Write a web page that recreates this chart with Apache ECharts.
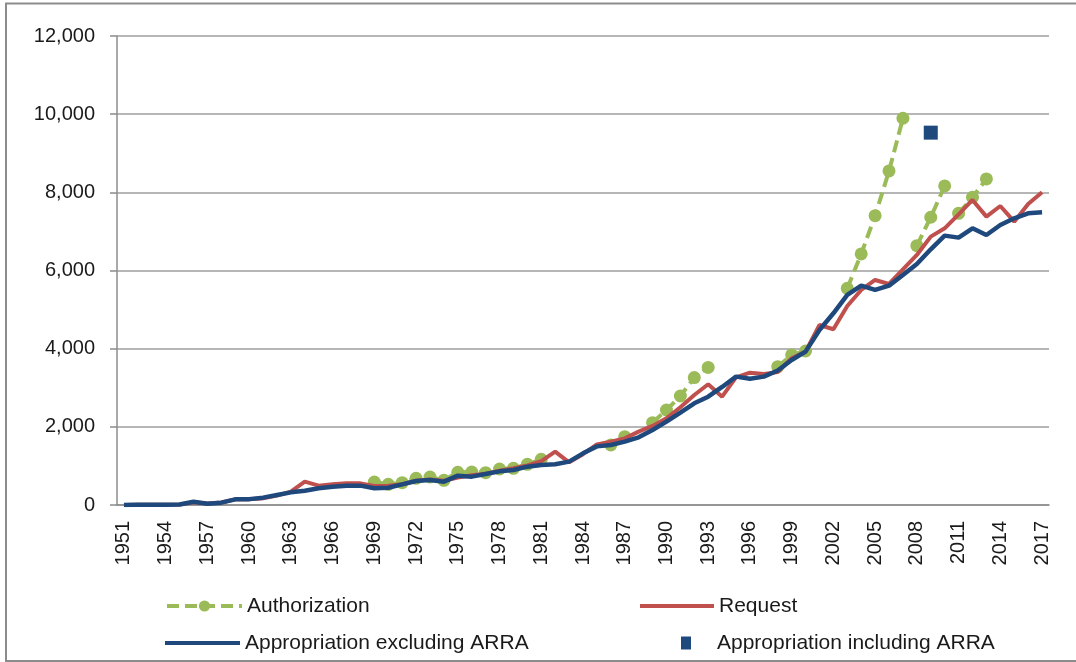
<!DOCTYPE html>
<html>
<head>
<meta charset="utf-8">
<title>Authorization, request and appropriation</title>
<script src="https://cdn.jsdelivr.net/npm/echarts@6/dist/echarts.min.js"></script>
<style>
  html, body { margin: 0; padding: 0; background: #fff; }
  #chart { width: 1076px; height: 662px; }
</style>
</head>
<body>
<div id="chart"></div>
<script>
// years on the category axis
var years = [];
for (var y = 1951; y <= 2017; y++) {
  years.push(String(y));
}

// values (millions)
var authorization = [
  null, null, null, null, null, null, null, null, null, null,
  null, null, null, null, null, null, null, null, 588, 529,
  571, 682, 716, 631, 836, 844, 827, 921, 938, 1041,
  1169, null, null, null, null, 1535, 1748, null, 2107, 2431,
  2789, 3260, 3520, null, null, null, null, 3540, 3839, 3940,
  null, null, 5545, 6423, 7403, 8547, 9895, 6636, 7362, 8163,
  7464, 7874, 8342, null, null, null, null
];
// the dashed authorization line starts again at these years
var authBreaks = [2008, 2011];

var request = [
  0, 4, 5, 8, 12, 70, 40, 65, 145, 150,
  175, 240, 341, 597, 495, 529, 554, 554, 486, 490,
  530, 620, 650, 620, 700, 760, 800, 880, 940, 1010,
  1120, 1365, 1090, 1300, 1550, 1620, 1706, 1876, 2022, 2218,
  2500, 2815, 3090, 2772, 3267, 3386, 3352, 3400, 3754, 3924,
  4606, 4496, 5092, 5502, 5758, 5655, 6031, 6398, 6866, 7080,
  7438, 7805, 7378, 7651, 7250, 7703, 8002
];

var approExArra = [
  0, 4, 5, 8, 12, 85, 33, 60, 145, 150,
  188, 256, 324, 367, 427, 469, 495, 495, 427, 440,
  529, 614, 640, 597, 751, 725, 793, 861, 895, 981,
  1024, 1041, 1109, 1322, 1500, 1535, 1620, 1731, 1919, 2132,
  2363, 2602, 2772, 3020, 3284, 3230, 3284, 3440, 3710, 3924,
  4478, 4905, 5374, 5613, 5502, 5613, 5886, 6167, 6543, 6892,
  6841, 7080, 6909, 7165, 7336, 7464, 7490
];

var approInArraYear = '2009';
var approInArraValue = 9527;

var yTicks = [0, 2000, 4000, 6000, 8000, 10000, 12000];

var green = '#9BBB59';
var red = '#C0504D';
var blue = '#1F497D';
var font = 'Liberation Sans';

// split authorization into separate dashed pieces
function authSegment(from, to) {
  return authorization.map(function (v, i) {
    var yr = +years[i];
    return yr >= from && yr < to ? v : null;
  });
}

var bounds = [1951].concat(authBreaks).concat([2018]);
var authSeries = [];
for (var k = 0; k < bounds.length - 1; k++) {
  authSeries.push({
    name: 'Authorization',
    type: 'line',
    data: authSegment(bounds[k], bounds[k + 1]),
    connectNulls: false,
    symbol: 'circle',
    symbolSize: 13,
    showAllSymbol: true,
    itemStyle: { color: green },
    lineStyle: { color: green, width: 4, type: [12, 6] },
    z: 1
  });
}

var inArra = years.map(function (yr) {
  return yr === approInArraYear ? approInArraValue : null;
});

function fmt(v) {
  return String(v).replace(/\B(?=(\d{3})+(?!\d))/g, ',');
}

var myChart = echarts.init(document.getElementById('chart'));

var legendText = { fontFamily: font, fontSize: 21, color: '#1a1a1a', lineHeight: 24 };

var option = {
  animation: false,
  backgroundColor: '#fff',
  graphic: [
    {
      type: 'polyline',
      shape: { points: [[1076, 3.5], [6, 3.5], [6, 661], [1076, 661]] },
      style: { stroke: '#8c8c8c', lineWidth: 2, fill: null },
      silent: true
    }
  ],
  grid: { left: 117, right: 27, top: 36, bottom: 157 },
  legend: [
    {
      data: ['Authorization'],
      left: 160, top: 589,
      itemWidth: 75, itemHeight: 14,
      lineStyle: { width: 4 },
      textStyle: legendText
    },
    {
      data: [{ name: 'Request', icon: 'rect' }],
      left: 635, top: 589,
      itemWidth: 74, itemHeight: 4,
      textStyle: legendText
    },
    {
      data: [{ name: 'Appropriation excluding ARRA', icon: 'rect' }],
      left: 160, top: 626,
      itemWidth: 75, itemHeight: 4,
      textStyle: legendText
    },
    {
      data: [{ name: 'Appropriation including ARRA', icon: 'rect' }],
      left: 676, top: 626,
      itemWidth: 10, itemHeight: 13,
      textStyle: Object.assign({}, legendText, { padding: [0, 0, 0, 21] })
    }
  ],
  xAxis: {
    type: 'category',
    data: years,
    boundaryGap: true,
    axisLine: { lineStyle: { color: '#8c8c8c', width: 1.5 } },
    axisTick: { interval: 0, length: 6, lineStyle: { color: '#8c8c8c', width: 1.5 } },
    axisLabel: {
      interval: 2,
      rotate: 90,
      margin: 16,
      fontFamily: font,
      fontSize: 20,
      color: '#1a1a1a'
    }
  },
  yAxis: {
    type: 'value',
    min: yTicks[0],
    max: yTicks[yTicks.length - 1],
    interval: yTicks[1] - yTicks[0],
    axisLine: { show: true, lineStyle: { color: '#8c8c8c', width: 1.5 } },
    axisTick: { show: true, length: 7, lineStyle: { color: '#8c8c8c', width: 1.5 } },
    splitLine: { lineStyle: { color: '#9e9e9e', width: 1.5 } },
    axisLabel: {
      margin: 22,
      fontFamily: font,
      fontSize: 20,
      color: '#1a1a1a',
      formatter: fmt
    }
  },
  series: authSeries.concat([
    {
      name: 'Request',
      type: 'line',
      data: request,
      symbol: 'none',
      itemStyle: { color: red },
      lineStyle: { color: red, width: 4 },
      z: 2
    },
    {
      name: 'Appropriation excluding ARRA',
      type: 'line',
      data: approExArra,
      symbol: 'none',
      itemStyle: { color: blue },
      lineStyle: { color: blue, width: 4.5 },
      z: 3
    },
    {
      name: 'Appropriation including ARRA',
      type: 'scatter',
      data: inArra,
      symbol: 'rect',
      symbolSize: 14,
      itemStyle: { color: blue, opacity: 1 },
      z: 4
    }
  ])
};

myChart.setOption(option);
</script>
</body>
</html>
